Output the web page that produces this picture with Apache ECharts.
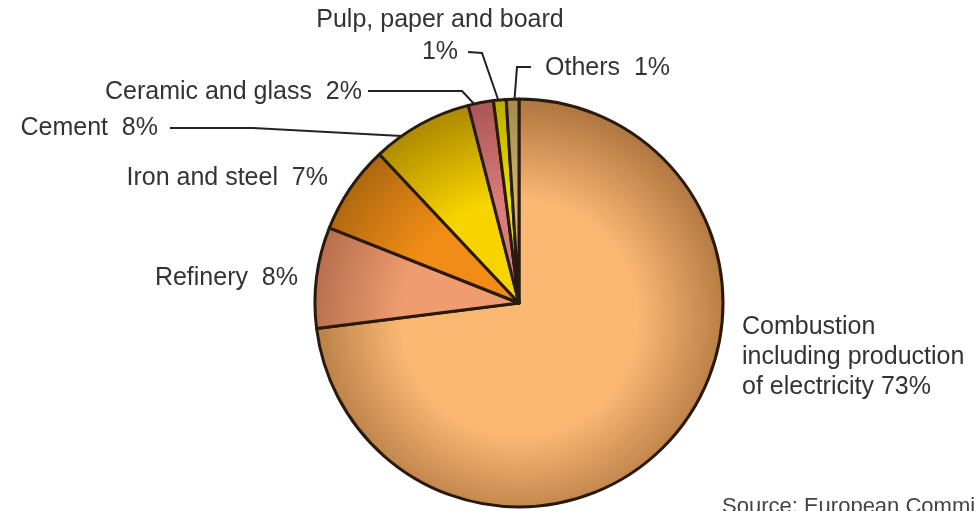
<!DOCTYPE html>
<html>
<head>
<meta charset="utf-8">
<style>
  html, body { margin: 0; padding: 0; background: #ffffff; }
  #chart { width: 974px; height: 511px; }
</style>
<script src="https://cdn.jsdelivr.net/npm/echarts@6/dist/echarts.min.js"></script>
</head>
<body>
<div id="chart"></div>
<script>
// Emission sources, shares in percent
const categories = [
  'Combustion including production of electricity',
  'Refinery',
  'Iron and steel',
  'Cement',
  'Ceramic and glass',
  'Pulp, paper and board',
  'Others'
];
const shares = [73, 8, 7, 8, 2, 1, 1];
const labelTexts = [
  'Combustion\nincluding production\nof electricity ',
  'Refinery  ',
  'Iron and steel  ',
  'Cement  ',
  'Ceramic and glass  ',
  'Pulp, paper and board\n',
  'Others  '
];

// Layout and styling
const CX = 519, CY = 303, R = 204;
const FONT = 'Liberation Sans, Arial, sans-serif';
const palette = [
  ['#FAB873', '#B27842'],
  ['#EF9C70', '#B46C4C'],
  ['#F18D16', '#AE6810'],
  ['#F7D400', '#B08C00'],
  ['#DA7C7A', '#AC5858'],
  ['#EAE200', '#BDAE00'],
  ['#CFB66A', '#A48C4C']
];
// label anchor, alignment and leader-line points per slice
const placement = [
  { x: 742, y: 357, align: 'left',   lh: 30, line: null },
  { x: 298, y: 278, align: 'right',  lh: 30, line: null },
  { x: 328, y: 178, align: 'right',  lh: 30, line: null },
  { x: 158, y: 128, align: 'right',  lh: 30, line: [[170, 128], [253, 128], [420, 137]] },
  { x: 362, y: 92,  align: 'right',  lh: 30, line: [[368, 91], [462, 91], [477, 107]] },
  { x: 440, y: 36,  align: 'center', lh: 32, line: [[468, 52], [482, 53], [501, 108]] },
  { x: 545, y: 68,  align: 'left',   lh: 30, line: [[531, 67], [517, 67], [514, 106]] }
];

function shade(c) {
  return {
    type: 'radial', global: true,
    x: CX, y: CY + 15, r: R * 1.05,
    colorStops: [
      { offset: 0, color: c[0] },
      { offset: 0.55, color: c[0] },
      { offset: 1, color: c[1] }
    ]
  };
}

const data = categories.map((name, i) => ({
  name: name,
  value: shares[i],
  itemStyle: { color: shade(palette[i]) },
  label: { lineHeight: placement[i].lh },
  labelLine: { show: !!placement[i].line }
}));

const chart = echarts.init(document.getElementById('chart'));
chart.setOption({
  backgroundColor: '#ffffff',
  animation: false,
  graphic: [{
    type: 'text',
    left: 722,
    top: 496,
    style: {
      text: 'Source: European Commission',
      fontFamily: FONT,
      fontSize: 22,
      fill: '#444444'
    }
  }],
  series: [{
    type: 'pie',
    center: [CX, CY],
    radius: R,
    startAngle: 90,
    clockwise: true,
    silent: true,
    data: data,
    itemStyle: { borderColor: '#2a1a0e', borderWidth: 3 },
    label: {
      show: true,
      position: 'outside',
      fontFamily: FONT,
      fontSize: 25,
      color: '#333333',
      formatter: p => labelTexts[p.dataIndex] + p.value + '%'
    },
    labelLine: {
      show: true,
      lineStyle: { color: '#222222', width: 2 }
    },
    labelLayout: p => {
      const pl = placement[p.dataIndex];
      const out = { x: pl.x, y: pl.y, align: pl.align, verticalAlign: 'middle', hideOverlap: false };
      if (pl.line) out.labelLinePoints = pl.line;
      return out;
    }
  }]
});
</script>
</body>
</html>
